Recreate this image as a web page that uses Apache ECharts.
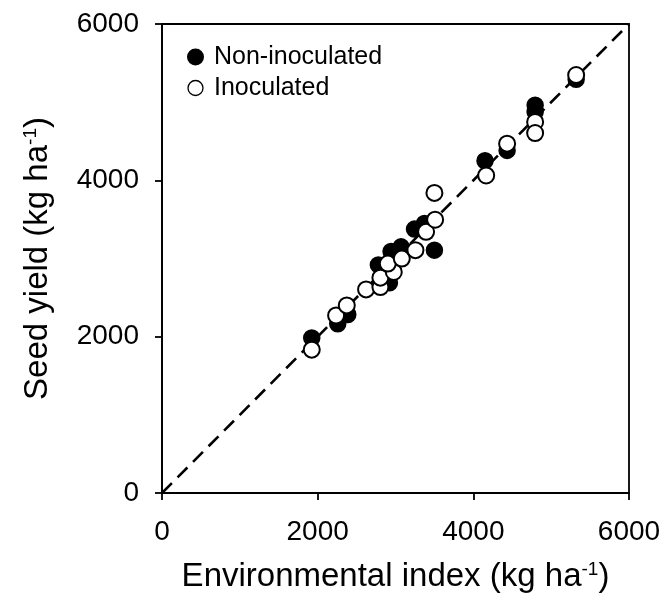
<!DOCTYPE html>
<html>
<head>
<meta charset="UTF-8">
<title>Seed yield vs environmental index</title>
<style>
  html, body { margin: 0; padding: 0; background: #fff; }
  #container { width: 665px; height: 599px; }
</style>
</head>
<body>
<div id="container"></div>
<script src="https://cdn.jsdelivr.net/npm/echarts@6/dist/echarts.min.js"></script>
<script>
// values (kg/ha)
var nonInocX = [1924, 2258, 2387, 2780, 2922, 2943, 3072, 3244, 3372, 3500, 4150, 4434, 4794, 4794, 5321];
var nonInocY = [1983, 2164, 2284, 2918, 2690, 3089, 3149, 3376, 3449, 3107, 4250, 4383, 4961, 4875, 5292];
var inocX = [1924, 2237, 2374, 2622, 2806, 2806, 2978, 2901, 3081, 3256, 3393, 3509, 3500, 4165, 4434, 4794, 4794, 5321];
var inocY = [1834, 2271, 2400, 2605, 2635, 2755, 2828, 2935, 2999, 3107, 3342, 3496, 3839, 4062, 4469, 4747, 4605, 5347];
var oneToOne = [[0, 0], [6000, 6000]];

function pairs(xs, ys) {
    return xs.map(function (x, i) { return [x, ys[i]]; });
}
// plain numbers, no thousands separator
function plain(v) { return String(v); }

var font = 'Liberation Sans, Arial, sans-serif';
var rich = {
    a: { fontSize: 33, fontFamily: font, color: '#000' },
    s: { fontSize: 19, fontFamily: font, color: '#000', verticalAlign: 'top', padding: [0, 0, 14, 0] }
};

var myChart = echarts.init(document.getElementById('container'));
myChart.setOption({
    animation: false,
    backgroundColor: '#fff',
    grid: {
        left: 162, right: 36, top: 24, bottom: 106,
        show: true, borderColor: '#000', borderWidth: 1.8, backgroundColor: 'transparent'
    },
    legend: {
        orient: 'vertical',
        left: 182, top: 38,
        itemWidth: 15, itemHeight: 15, itemGap: 3,
        textStyle: { fontSize: 25, lineHeight: 28, fontFamily: font, color: '#000', padding: [0, 0, 0, 6] },
        data: [
            { name: 'Non-inoculated', icon: 'circle' },
            { name: 'Inoculated', icon: 'circle', itemStyle: { color: '#fff', borderColor: '#000', borderWidth: 1.3 } }
        ]
    },
    xAxis: {
        type: 'value', min: 0, max: 6000, interval: 2000,
        name: '{a|Environmental index (kg ha}{s|-1}{a|)}',
        nameLocation: 'middle', nameGap: 67,
        nameTextStyle: { rich: rich },
        axisLine: { lineStyle: { color: '#000', width: 1.8 } },
        axisTick: { show: true, inside: false, length: 7, lineStyle: { color: '#000', width: 1.8 } },
        axisLabel: { fontSize: 28, fontFamily: font, color: '#000', margin: 25, formatter: plain },
        splitLine: { show: false }
    },
    yAxis: {
        type: 'value', min: 0, max: 6000, interval: 2000,
        name: '{a|Seed yield (kg ha}{s|-1}{a|)}',
        nameLocation: 'middle', nameGap: 108, nameRotate: 90,
        nameTextStyle: { rich: rich },
        axisLine: { lineStyle: { color: '#000', width: 1.8 } },
        axisTick: { show: true, inside: false, length: 7, lineStyle: { color: '#000', width: 1.8 } },
        axisLabel: { fontSize: 28, fontFamily: font, color: '#000', margin: 23, formatter: plain },
        splitLine: { show: false }
    },
    series: [
        {
            name: '1:1',
            type: 'line',
            data: oneToOne,
            symbol: 'none',
            silent: true,
            lineStyle: { color: '#000', width: 2.6, type: [14, 8] },
            z: 1
        },
        {
            name: 'Non-inoculated',
            type: 'scatter',
            data: pairs(nonInocX, nonInocY),
            symbol: 'circle',
            symbolSize: 16,
            itemStyle: { color: '#000', borderColor: '#000', borderWidth: 1.5, opacity: 1 },
            z: 2
        },
        {
            name: 'Inoculated',
            type: 'scatter',
            data: pairs(inocX, inocY),
            symbol: 'circle',
            symbolSize: 16,
            itemStyle: { color: '#fff', borderColor: '#000', borderWidth: 2, opacity: 1 },
            z: 3
        }
    ]
});
</script>
</body>
</html>
